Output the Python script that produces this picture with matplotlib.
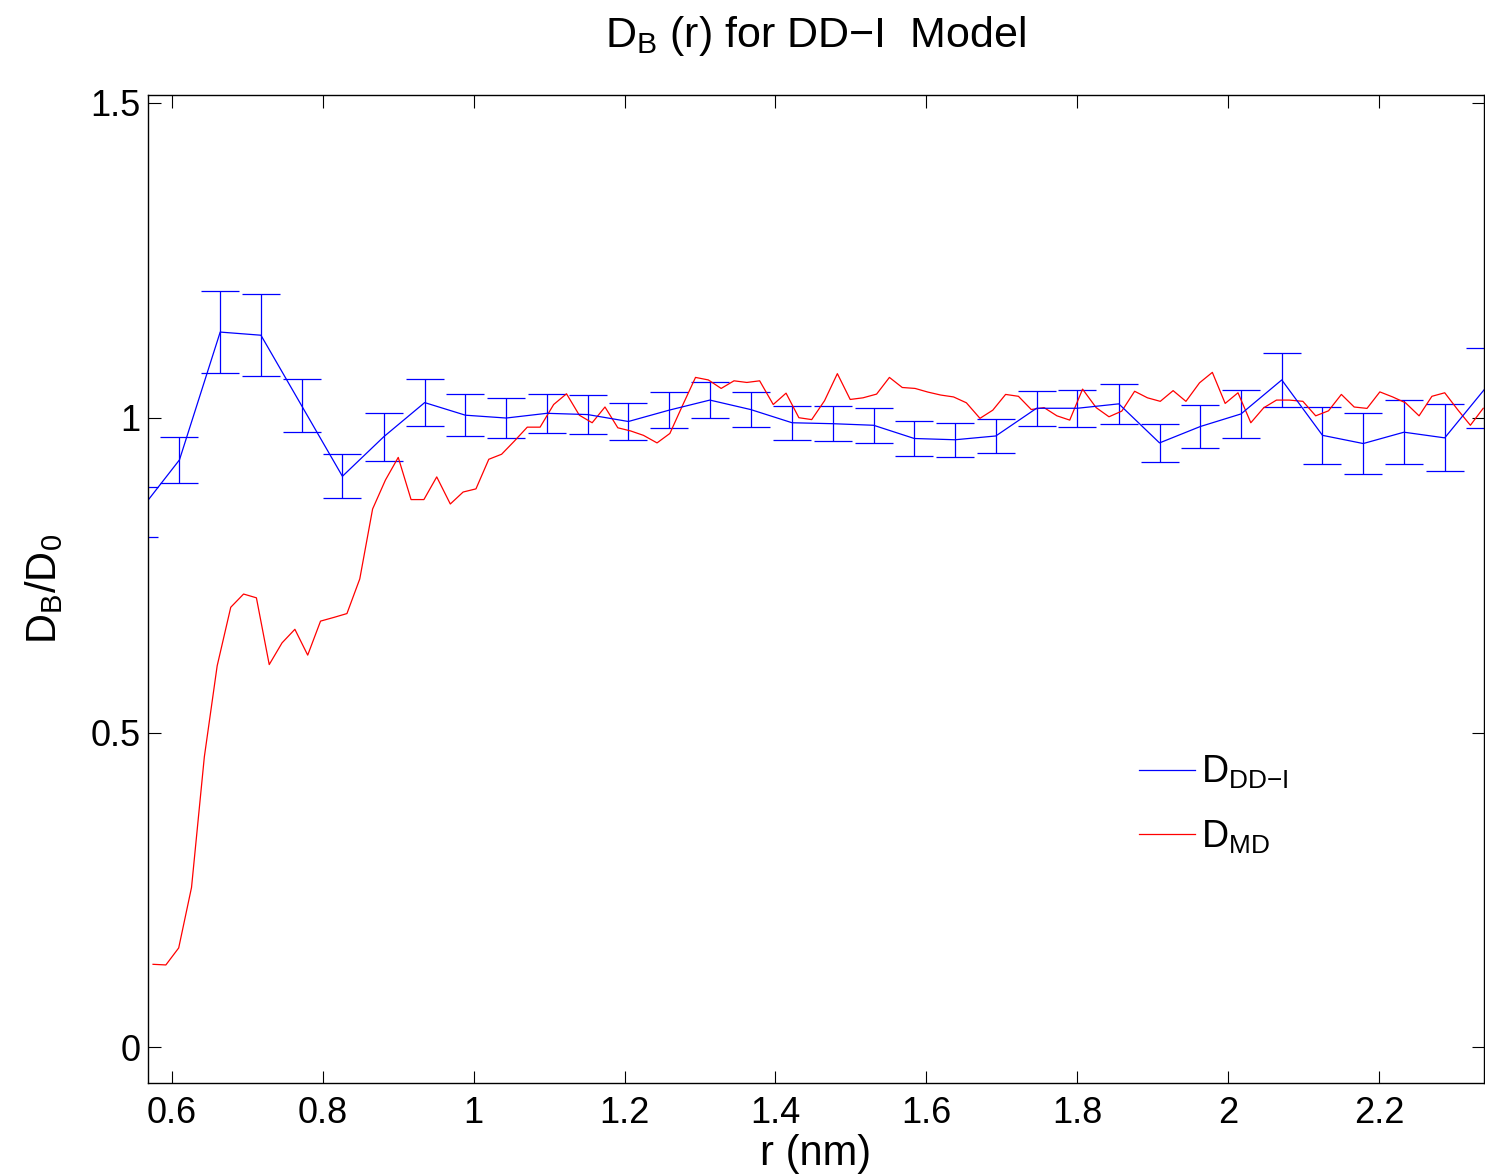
import numpy as np
import matplotlib
matplotlib.use("Agg")
import matplotlib.pyplot as plt

plt.rcParams['font.family'] = ['Liberation Sans', 'DejaVu Sans']
plt.rcParams['mathtext.fontset'] = 'custom'
plt.rcParams['mathtext.rm'] = 'Liberation Sans'
plt.rcParams['mathtext.it'] = 'Liberation Sans:italic'
plt.rcParams['mathtext.default'] = 'regular'

# DD-I model, with error bars
r_dd = [0.556, 0.610, 0.664, 0.718, 0.772, 0.826, 0.881, 0.935, 0.989, 1.043,
        1.097, 1.151, 1.205, 1.259, 1.313, 1.367, 1.422, 1.476, 1.530, 1.584,
        1.638, 1.692, 1.746, 1.800, 1.855, 1.909, 1.963, 2.017, 2.071, 2.125,
        2.179, 2.233, 2.287, 2.341]
d_dd = [0.850, 0.933, 1.136, 1.131, 1.019, 0.907, 0.970, 1.024, 1.004, 0.9995,
        1.007, 1.005, 0.994, 1.012, 1.028, 1.013, 0.992, 0.9905, 0.988, 0.967,
        0.965, 0.971, 1.015, 1.015, 1.022, 0.960, 0.986, 1.006, 1.060, 0.972,
        0.959, 0.977, 0.968, 1.047]
err_dd = [0.040, 0.037, 0.065, 0.065, 0.042, 0.035, 0.038, 0.037, 0.0335, 0.032,
          0.031, 0.0305, 0.030, 0.0285, 0.029, 0.028, 0.027, 0.0275, 0.028, 0.028,
          0.027, 0.027, 0.028, 0.029, 0.0315, 0.0305, 0.034, 0.0375, 0.0435, 0.045,
          0.048, 0.051, 0.053, 0.063]

# MD reference
r_md = [0.575, 0.592, 0.609, 0.626, 0.643, 0.660, 0.678, 0.695, 0.712, 0.729,
        0.746, 0.763, 0.780, 0.797, 0.815, 0.832, 0.849, 0.866, 0.883, 0.900,
        0.917, 0.934, 0.951, 0.969, 0.986, 1.003, 1.020, 1.037, 1.054, 1.071,
        1.088, 1.106, 1.123, 1.140, 1.157, 1.174, 1.191, 1.208, 1.225, 1.243,
        1.260, 1.277, 1.294, 1.311, 1.328, 1.345, 1.362, 1.379, 1.397, 1.414,
        1.431, 1.448, 1.465, 1.482, 1.499, 1.516, 1.534, 1.551, 1.568, 1.585,
        1.602, 1.619, 1.636, 1.653, 1.671, 1.688, 1.705, 1.722, 1.739, 1.756,
        1.773, 1.790, 1.807, 1.825, 1.842, 1.859, 1.876, 1.893, 1.910, 1.927,
        1.944, 1.962, 1.979, 1.996, 2.013, 2.030, 2.047, 2.064, 2.081, 2.099,
        2.116, 2.133, 2.150, 2.167, 2.184, 2.201, 2.218, 2.235, 2.253, 2.270,
        2.287, 2.304, 2.321, 2.338]
d_md = [0.132, 0.131, 0.158, 0.254, 0.4615, 0.606, 0.699, 0.720, 0.714, 0.608,
        0.6425, 0.664, 0.623, 0.677, 0.683, 0.689, 0.744, 0.855, 0.901, 0.937,
        0.870, 0.870, 0.906, 0.863, 0.882, 0.887, 0.934, 0.942, 0.963, 0.985,
        0.985, 1.021, 1.038, 1.004, 0.992, 1.017, 0.984, 0.979, 0.972, 0.960,
        0.975, 1.020, 1.064, 1.060, 1.0465, 1.0586, 1.056, 1.0586, 1.021, 1.039,
        1.000, 0.997, 1.027, 1.070, 1.029, 1.0316, 1.0375, 1.064, 1.048, 1.0465,
        1.0407, 1.036, 1.033, 1.0237, 0.999, 1.012, 1.037, 1.034, 1.013, 1.016,
        1.003, 0.9962, 1.0454, 1.016, 1.0015, 1.0105, 1.042, 1.0316, 1.026, 1.043,
        1.026, 1.0554, 1.072, 1.0227, 1.0396, 0.992, 1.0157, 1.028, 1.028, 1.026,
        1.003, 1.011, 1.037, 1.017, 1.0148, 1.041, 1.033, 1.0237, 1.003, 1.034,
        1.0396, 1.013, 0.988, 1.015]

xticks = [0.6, 0.8, 1.0, 1.2, 1.4, 1.6, 1.8, 2.0, 2.2]
xticklabels = ['0.6', '0.8', '1', '1.2', '1.4', '1.6', '1.8', '2', '2.2']
yticks = [0, 0.5, 1, 1.5]
yticklabels = ['0', '0.5', '1', '1.5']

fig = plt.figure(figsize=(14.85, 11.76), dpi=100)
ax = fig.add_axes([0.0995, 0.0788, 0.8998, 0.8407])

eb = ax.errorbar(r_dd, d_dd, yerr=err_dd, color='#0000ff', lw=0.9,
                 elinewidth=0.9, capsize=14, capthick=0.9)
md_line, = ax.plot(r_md, d_md, color='#ff0000', lw=0.9)

ax.set_xlim(0.568, 2.339)
ax.set_ylim(-0.057, 1.513)
ax.set_xticks(xticks)
ax.set_xticklabels(xticklabels)
ax.set_yticks(yticks)
ax.set_yticklabels(yticklabels)
ax.tick_params(direction='in', length=9, width=0.8, labelsize=26,
               top=True, right=True, pad=9)
ax.tick_params(axis='y', pad=5)
for sp in ax.spines.values():
    sp.set_linewidth(1.0)

ax.set_title('$D_B$ (r) for DD\u2212I  Model', fontsize=31, pad=34)
ax.set_xlabel('r (nm)', fontsize=30, labelpad=2)
ax.set_ylabel('$D_B/D_0$', fontsize=30, labelpad=18)

ax.legend([eb[0], md_line], ['$D_{\\text{DD\u2212I}}$', '$D_{MD}$'],
          loc='upper left', bbox_to_anchor=(0.7418, 0.333), frameon=False,
          fontsize=27, handlelength=1.5, handletextpad=0.16, labelspacing=0.72,
          borderpad=0, borderaxespad=0)

fig.savefig('out.png', dpi=100)
